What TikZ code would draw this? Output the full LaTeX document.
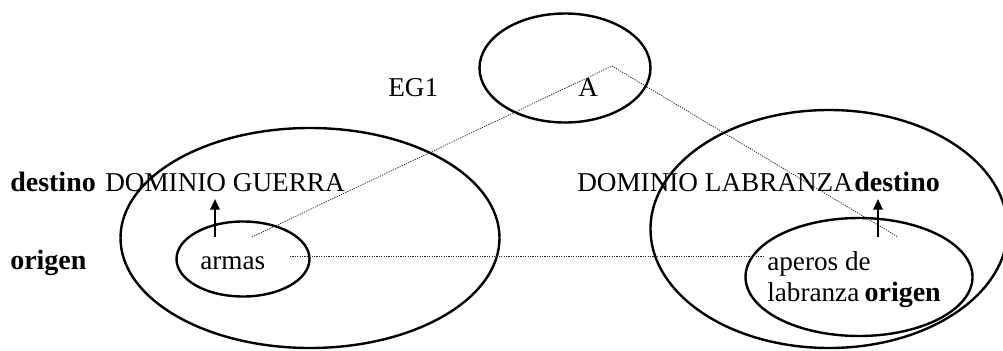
\documentclass[tikz,border=0pt]{standalone}
\usepackage{fontspec}
\setmainfont{Liberation Serif}
\usetikzlibrary{shapes.geometric,arrows.meta}
\begin{document}
\begin{tikzpicture}[x=0.75pt,y=-0.75pt,
  oval/.style={ellipse,draw,line width=1.8pt,inner sep=0pt,outer sep=0pt},
  lbl/.style={anchor=base west,inner sep=0pt,font=\fontsize{20.4}{24}\selectfont},
  blbl/.style={lbl,font=\fontsize{21}{24}\selectfont\bfseries},
  dotline/.style={line width=0.6pt,dash pattern=on 0.9pt off 0.9pt,black!85},
  uparrow/.style={line width=1.6pt,-{Triangle[length=8pt,width=7pt]}}]
\useasboundingbox (0,0) rectangle (1003,350);
\begin{scope}
\clip (0,0) rectangle (1003,350);
% ellipses (sizes given in pixels, times 0.75pt)
\node[oval,minimum width=0.75*171pt,minimum height=0.75*109pt] (top) at (565,68) {};
\node[oval,minimum width=0.75*379pt,minimum height=0.75*220pt] (lbig) at (310,238) {};
\node[oval,minimum width=0.75*133pt,minimum height=0.75*75pt] (lsmall) at (243,259) {};
\node[oval,minimum width=0.75*357pt,minimum height=0.75*238pt] (rbig) at (829,229) {};
\node[oval,minimum width=0.75*227pt,minimum height=0.75*118pt] (rsmall) at (859,277) {};
\end{scope}
% texts
\node[lbl] (eg1) at (388,96) {EG1};
\node[lbl] (a) at (578,96) {A};
\node[blbl] (dest1) at (10,191) {destino};
\node[lbl] (dg) at (105,191) {DOMINIO GUERRA};
\node[blbl] (orig1) at (10,269) {origen};
\node[lbl] (armas) at (200,269) {armas};
\node[lbl] (dl) at (577,191) {DOMINIO LABRANZA};
\node[blbl] (dest2) at (854,191) {destino};
\node[lbl] (aperos) at (767,270) {aperos de};
\node[lbl] (labr) at (767,301) {labranza};
\node[blbl,anchor=base west] (orig2) at ([xshift=3.5pt]labr.base east) {origen};
% connector points
\coordinate (pl) at (252,237);
\coordinate (peak) at (612,66);
\coordinate (pr) at (898,237);
\coordinate (hl) at (290,256);
\coordinate (hr) at (765,256);
\draw[dotline] (pl) -- (peak) -- (pr);
\draw[dotline] (hl) -- (hr);
% arrows
\coordinate (la0) at (215,237);
\coordinate (la1) at (215,199);
\coordinate (ra0) at (878,237);
\coordinate (ra1) at (878,199);
\draw[uparrow] (la0) -- (la1);
\draw[uparrow] (ra0) -- (ra1);
\end{tikzpicture}
\end{document}
